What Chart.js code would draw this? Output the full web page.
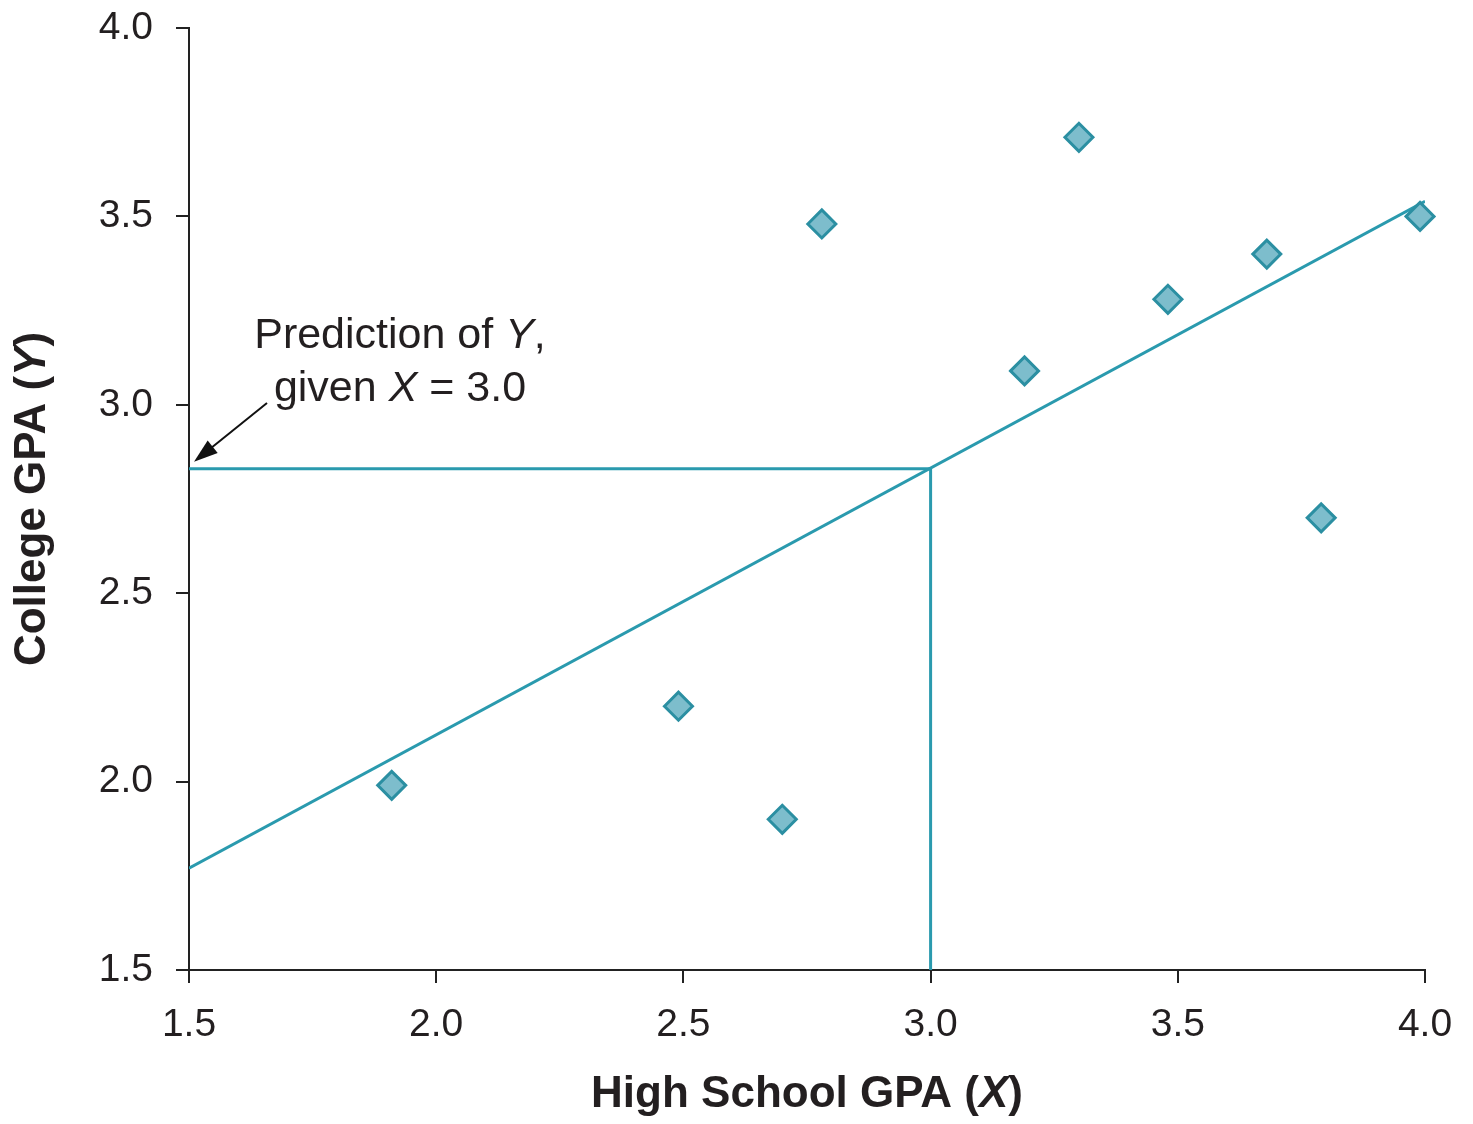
<!DOCTYPE html>
<html>
<head>
<meta charset="utf-8">
<script src="https://cdn.jsdelivr.net/npm/chart.js@4.4.1/dist/chart.umd.min.js"></script>
<style>
  html, body { margin: 0; padding: 0; background: #fff; }
  #wrap { width: 1473px; height: 1124px; }
</style>
</head>
<body>
<div id="wrap"><canvas id="gpaChart" width="1473" height="1124"></canvas></div>
<script>
// Values
const highSchoolGPA = [1.91, 2.49, 2.70, 2.78, 3.19, 3.30, 3.48, 3.68, 3.79, 3.99];
const collegeGPA = [1.99, 2.20, 1.90, 3.48, 3.09, 3.71, 3.28, 3.40, 2.70, 3.50];

// regression line end points
const lineX = [1.5, 4.0];
const lineY = [1.77, 3.54];

// predicted value at X = 3.0
const givenX = 3.0;
const predictedY = 2.83;

const xTicks = [1.5, 2.0, 2.5, 3.0, 3.5, 4.0];
const yTicks = [1.5, 2.0, 2.5, 3.0, 3.5, 4.0];

const TEAL = '#2a9aae';
const TEXT = '#231f20';
const FONT = '"Liberation Sans", Arial, sans-serif';

// draw a line of text made of parts that can be italic
function drawParts(ctx, parts, x, y, weight, size, align) {
    let total = 0;
    parts.forEach(p => {
        ctx.font = (p.italic ? 'italic ' : '') + weight + ' ' + size + 'px ' + FONT;
        p.w = ctx.measureText(p.text).width;
        total += p.w;
    });
    let cx = align === 'center' ? x - total / 2 : x;
    ctx.textAlign = 'left';
    parts.forEach(p => {
        ctx.font = (p.italic ? 'italic ' : '') + weight + ' ' + size + 'px ' + FONT;
        ctx.fillText(p.text, cx, y);
        cx += p.w;
    });
}

const labelsPlugin = {
    id: 'labels',
    afterDraw(chart) {
        const ctx = chart.ctx;
        const area = chart.chartArea;
        const xs = chart.scales.x;
        const ys = chart.scales.y;
        ctx.save();
        ctx.fillStyle = TEXT;
        ctx.textBaseline = 'middle';

        // axis titles
        drawParts(ctx, [{ text: 'High School GPA (' }, { text: 'X', italic: true }, { text: ')' }],
            (area.left + area.right) / 2, 1095, 'bold', 44, 'center');
        ctx.save();
        ctx.translate(33, (area.top + area.bottom) / 2);
        ctx.rotate(-Math.PI / 2);
        drawParts(ctx, [{ text: 'College GPA (' }, { text: 'Y', italic: true }, { text: ')' }],
            0, 0, 'bold', 44, 'center');
        ctx.restore();

        // annotation
        ctx.textBaseline = 'alphabetic';
        drawParts(ctx, [{ text: 'Prediction of ' }, { text: 'Y', italic: true }, { text: ',' }],
            400, 348, 'normal', 43, 'center');
        drawParts(ctx, [{ text: 'given ' }, { text: 'X', italic: true }, { text: ' = 3.0' }],
            400, 401, 'normal', 43, 'center');

        // arrow pointing at the predicted value on the Y axis
        const tipX = xs.getPixelForValue(1.5) + 5;
        const tipY = ys.getPixelForValue(predictedY) - 7;
        const fromX = 267, fromY = 403;
        const ang = Math.atan2(tipY - fromY, tipX - fromX);
        ctx.strokeStyle = '#111';
        ctx.fillStyle = '#111';
        ctx.lineWidth = 2;
        ctx.beginPath();
        ctx.moveTo(fromX, fromY);
        ctx.lineTo(tipX - 14 * Math.cos(ang), tipY - 14 * Math.sin(ang));
        ctx.stroke();
        ctx.beginPath();
        ctx.moveTo(tipX, tipY);
        ctx.lineTo(tipX - 24 * Math.cos(ang) + 8 * Math.sin(ang), tipY - 24 * Math.sin(ang) - 8 * Math.cos(ang));
        ctx.lineTo(tipX - 24 * Math.cos(ang) - 8 * Math.sin(ang), tipY - 24 * Math.sin(ang) + 8 * Math.cos(ang));
        ctx.closePath();
        ctx.fill();
        ctx.restore();
    }
};

const ctx = document.getElementById('gpaChart').getContext('2d');
const chart = new Chart(ctx, {
    type: 'scatter',
    data: {
        datasets: [
            {
                label: 'Students',
                data: highSchoolGPA.map((x, i) => ({ x: x, y: collegeGPA[i] })),
                pointStyle: 'rectRot',
                pointRadius: 14,
                pointHoverRadius: 14,
                backgroundColor: '#7dbdcc',
                borderColor: '#2b8fa2',
                borderWidth: 3,
                clip: false,
                order: 0
            },
            {
                type: 'line',
                label: 'Regression line',
                data: lineX.map((x, i) => ({ x: x, y: lineY[i] })),
                borderColor: TEAL,
                borderWidth: 3,
                pointRadius: 0,
                fill: false,
                order: 1
            },
            {
                type: 'line',
                label: 'Prediction',
                data: [
                    { x: lineX[0], y: predictedY },
                    { x: givenX, y: predictedY },
                    { x: givenX, y: yTicks[0] }
                ],
                borderColor: TEAL,
                borderWidth: 3,
                pointRadius: 0,
                fill: false,
                order: 2
            }
        ]
    },
    options: {
        responsive: false,
        animation: false,
        layout: { padding: { top: 28, right: 48, left: 0, bottom: 0 } },
        plugins: {
            legend: { display: false },
            tooltip: { enabled: false }
        },
        scales: {
            x: {
                type: 'linear',
                min: xTicks[0],
                max: xTicks[xTicks.length - 1],
                afterFit: s => { s.height = 154; s.paddingLeft = 0; s.paddingRight = 0; },
                afterBuildTicks: s => { s.ticks = xTicks.map(v => ({ value: v })); },
                border: { display: true, color: '#222', width: 2 },
                grid: { drawOnChartArea: false, drawTicks: true, tickLength: 13, tickColor: '#222', lineWidth: 2 },
                ticks: {
                    padding: 19,
                    color: TEXT,
                    font: { family: FONT, size: 39 },
                    callback: v => v.toFixed(1)
                }
            },
            y: {
                type: 'linear',
                min: yTicks[0],
                max: yTicks[yTicks.length - 1],
                afterFit: s => { s.width = 189; s.paddingTop = 0; s.paddingBottom = 0; },
                afterBuildTicks: s => { s.ticks = yTicks.map(v => ({ value: v })); },
                border: { display: true, color: '#222', width: 2 },
                grid: { drawOnChartArea: false, drawTicks: true, tickLength: 13, tickColor: '#222', lineWidth: 2 },
                ticks: {
                    padding: 23,
                    color: TEXT,
                    font: { family: FONT, size: 39 },
                    callback: v => v.toFixed(1)
                }
            }
        }
    },
    plugins: [labelsPlugin]
});
</script>
</body>
</html>
